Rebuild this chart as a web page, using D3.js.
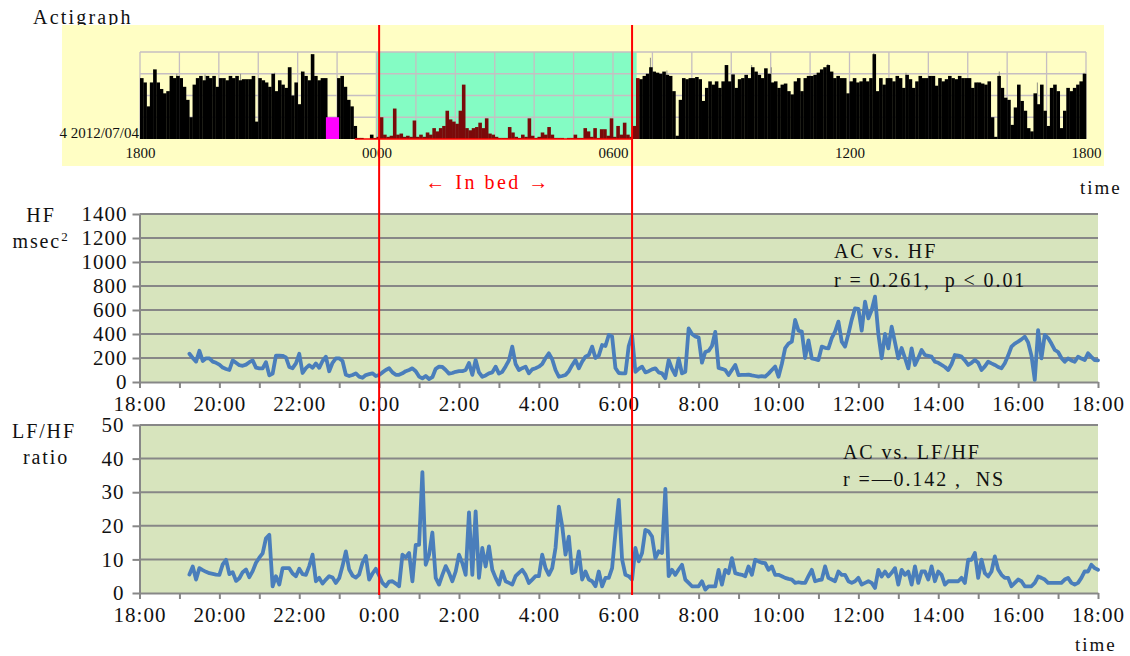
<!DOCTYPE html>
<html>
<head>
<meta charset="utf-8">
<script src="https://cdn.jsdelivr.net/npm/d3@7"></script>
<style>
  body { margin: 0; background: #fff; }
  text { font-family: "Liberation Serif", "Times New Roman", serif; fill: #111; }
</style>
</head>
<body>
<div id="chart"></div>
<script>
// actigraph counts (0-4 scale), 5-min bins from 2012/07/04 18:00, one row per hour
const actigraph = [
  2.8, 2.6, 1.5, 2.6, 3.2, 2.6, 2.3, 2.1, 2.2, 2.9, 2.8, 2.9,
  2.8, 2.4, 1.8, 1.0, 2.5, 2.8, 2.9, 2.7, 2.9, 2.8, 2.9, 2.4,
  2.8, 2.8, 2.7, 2.9, 2.8, 2.9, 2.7, 2.75, 2.75, 2.75, 2.9, 0.8,
  2.8, 2.7, 2.6, 2.4, 3.0, 2.2, 2.7, 2.5, 2.35, 3.3, 2.0, 2.6,
  1.6, 3.1, 2.9, 2.7, 3.9, 2.9, 2.7, 2.8, 2.8, 0, 0, 0,
  2.8, 2.9, 2.4, 1.8, 1.5, 0.6, 0.05, 0.05, 0, 0, 0.2, 0.05,
  0.1, 1.0, 0.2, 0.1, 0.15, 1.4, 0.2, 0.25, 0.1, 0.15, 0.1, 0.85,
  0.1, 0.2, 0.1, 0.3, 0.2, 0.5, 0.35, 0.5, 0.6, 1.3, 0.9, 0.8,
  0.7, 1.3, 2.5, 0.5, 0.4, 0.5, 0.55, 0.75, 0.5, 0.95, 0.25, 0.2,
  0.1, 0.05, 0.05, 0.05, 0.55, 0.3, 0.1, 0.05, 0.2, 0.1, 0.95, 0.15,
  0.05, 0.1, 0.3, 0.2, 0.55, 0.2, 0.05, 0.05, 0.05, 0, 0.05, 0.05,
  0.2, 0.05, 0.05, 0.5, 0.35, 0.1, 0.5, 0.05, 0.45, 0.45, 0.15, 0.95,
  0.1, 0.6, 0.2, 0.75, 0.2, 0.1, 0.6, 2.8, 2.75, 2.9, 3.0, 3.3,
  3.1, 3.05, 3.0, 3.1, 2.95, 2.9, 2.2, 0.15, 1.8, 2.8, 2.75, 2.8,
  2.8, 2.85, 2.75, 1.75, 2.35, 2.65, 2.5, 2.65, 2.35, 2.65, 3.4, 2.65,
  2.97, 2.35, 2.75, 2.8, 2.95, 2.8, 3.3, 3.1, 2.95, 2.8, 3.25, 3.0,
  2.6, 2.65, 2.35, 2.5, 2.55, 2.2, 2.05, 2.65, 2.8, 2.2, 2.8, 2.9,
  2.9, 2.95, 3.05, 3.2, 3.3, 3.4, 3.1, 2.8, 2.9, 2.8, 2.8, 2.1,
  2.65, 2.8, 2.6, 2.65, 2.8, 2.65, 2.8, 3.9, 2.2, 2.8, 2.5, 2.8,
  2.8, 2.65, 2.9, 2.8, 2.35, 2.95, 2.75, 2.35, 2.65, 2.9, 2.8, 2.8,
  2.9, 2.9, 2.45, 2.8, 2.65, 2.75, 2.9, 2.8, 2.75, 2.9, 2.8, 2.8,
  2.8, 2.35, 2.6, 2.6, 2.55, 2.5, 2.65, 1.0, 0.1, 2.9, 2.35, 1.9,
  1.8, 0.65, 1.45, 2.5, 1.75, 1.3, 0.5, 0.35, 2.1, 1.6, 2.5, 1.3,
  0.6, 2.35, 2.5, 2.2, 0.5, 1.3, 2.35, 2.2, 2.35, 2.5, 2.65, 3.0
];
// short single-minute spikes that stand above the 5-min bars
const spikeTimes = ["18:21", "18:56", "19:39", "20:33", "21:25", "21:50", "22:06", "22:21",
  "6:57", "7:22", "9:31", "10:01", "11:27", "12:37", "13:26", "15:48", "16:46", "17:57"];
const spikeValues = [3.2, 3.0, 2.97, 3.0, 3.05, 3.3, 3.1, 3.9,
  3.74, 3.15, 3.4, 3.3, 3.45, 3.95, 3.05, 3.1, 2.6, 3.05];
const offWrist = ["22:43", "23:03"];
const offWristLevel = 1;
const sleepWindow = ["23:59", "6:36"];
const zeroStretch = ["23:27", "6:28"];
const inBed = ["0:00", "6:20"];
const actTicks = [0, 6, 12, 18, 24];

// HRV series, 5-min samples from 19:15 to 18:00
const seriesStart = "19:15";
const hf = [
  235, 200, 170, 260, 175, 197, 197, 170, 160,
  145, 120, 108, 100, 180, 160, 140, 135, 145, 165, 180, 120,
  114, 114, 165, 55, 70, 220, 220, 218, 205, 125, 115, 155,
  235, 75, 115, 140, 118, 155, 118, 175, 210, 90, 160, 197,
  197, 175, 60, 50, 58, 72, 45, 35, 58, 65, 72, 50,
  58, 80, 100, 114, 80, 60, 60, 72, 90, 100, 114, 90,
  45, 30, 50, 25, 40, 110, 128, 125, 100, 70, 75, 85,
  90, 90, 100, 158, 60, 183, 80, 44, 55, 72, 80, 128,
  70, 85, 130, 180, 295, 150, 100, 115, 128, 72, 105, 115,
  128, 150, 200, 239, 190, 100, 44, 50, 58, 90, 140, 183,
  114, 170, 211, 225, 295, 200, 220, 308, 300, 392, 380, 117,
  75, 72, 72, 300, 390, 84, 110, 128, 80, 90, 105, 114,
  80, 72, 31, 183, 110, 58, 194, 72, 86, 447, 400, 380,
  370, 161, 250, 260, 300, 417, 117, 110, 100, 58, 100, 142,
  58, 60, 60, 62, 55, 50, 44, 48, 44, 70, 100, 128,
  44, 150, 283, 320, 336, 517, 428, 420, 200, 347, 197, 190,
  183, 295, 285, 280, 366, 420, 503, 336, 295, 400, 520, 614,
  610, 428, 669, 530, 600, 711, 400, 197, 400, 280, 461, 330,
  197, 283, 200, 114, 280, 142, 200, 267, 225, 218, 211, 169,
  160, 142, 125, 100, 150, 225, 220, 211, 180, 142, 160, 183,
  160, 100, 130, 169, 155, 142, 125, 114, 156, 220, 295, 320,
  336, 355, 378, 330, 220, 17, 433, 197, 392, 366, 320, 267,
  250, 200, 169, 197, 180, 169, 211, 195, 183, 239, 210, 183,
  180
];
const lfhf = [
  5.5, 7.9, 4.0, 7.4, 6.8, 6.3, 5.9, 5.7, 5.5,
  5.4, 8.5, 9.9, 5.6, 6.2, 3.6, 4.4, 6.2, 7.0, 4.7, 6.5, 9.0,
  10.5, 11.8, 16.3, 17.3, 2.0, 5.0, 2.5, 7.4, 7.4, 7.4, 5.8, 5.0,
  7.2, 5.6, 5.4, 8.0, 11.4, 3.5, 4.5, 2.8, 4.0, 5.0, 4.6, 3.0,
  4.4, 8.0, 12.4, 7.0, 5.2, 4.6, 5.5, 9.0, 11.0, 4.0, 5.8, 7.2,
  5.2, 3.0, 2.0, 3.4, 3.5, 2.8, 2.0, 11.4, 10.6, 11.9, 3.5, 14.3,
  14.3, 36, 8.4, 11.4, 18, 4.5, 2.5, 5.4, 8.0, 6.0, 3.5, 6.4,
  11.4, 8.9, 5.4, 24, 5.4, 24.3, 4.5, 13.4, 7.9, 13.9, 6.9, 4.5,
  2.5, 6.4, 3.5, 3.0, 2.5, 5.0, 6.0, 6.9, 5.4, 3.0, 4.0, 5.0,
  5.0, 11.4, 7.4, 5.4, 7.4, 13.4, 25.7, 20, 11.4, 16.8, 5.9, 6.4,
  12.4, 4.0, 6.4, 4.0, 3.5, 2.0, 6.4, 2.0, 4.5, 4.5, 7.4, 17.8,
  27.7, 10, 5.4, 5.0, 4.0, 13.4, 9.4, 11.9, 18.8, 18.3, 16.8, 10.4,
  12.4, 11.9, 31, 5.0, 6.9, 5.4, 7.0, 8.4, 4.0, 3.0, 2.0, 2.0,
  2.0, 3.5, 1.0, 2.0, 2.0, 2.0, 6.9, 2.5, 6.9, 5.9, 10.4, 5.9,
  5.6, 5.4, 5.0, 7.9, 5.4, 9.9, 9.4, 9.0, 8.9, 6.9, 7.9, 5.4,
  5.4, 5.0, 4.5, 4.2, 4.0, 3.0, 3.2, 3.0, 3.0, 5.0, 6.9, 3.5,
  3.8, 4.0, 7.9, 4.5, 4.0, 3.5, 6.4, 5.4, 5.4, 3.5, 3.0, 3.5,
  4.5, 2.5, 3.0, 3.5, 3.0, 1.5, 6.9, 4.9, 6.4, 4.9, 6.0, 7.4,
  2.5, 6.9, 5.4, 6.4, 2.5, 7.9, 3.0, 6.4, 6.4, 4.0, 7.9, 3.5,
  6.4, 5.4, 2.5, 3.5, 3.5, 3.5, 3.5, 4.5, 3.0, 9.9, 9.9, 11.9,
  4.5, 9.9, 5.9, 4.9, 6.4, 10.9, 7.0, 5.4, 4.5, 4.5, 2.0, 3.0,
  4.0, 3.5, 2.0, 2.0, 2.0, 3.0, 4.9, 4.5, 4.0, 3.0, 3.0, 3.0,
  3.0, 3.0, 4.0, 4.5, 3.0, 2.5, 3.0, 4.5, 6.4, 6.4, 8.4, 7.4,
  6.9
];
const hfTicks = [0, 200, 400, 600, 800, 1000, 1200, 1400];
const lfhfTicks = [0, 10, 20, 30, 40, 50];

const W = 1130, H = 656;
const base = new Date(2012, 6, 4, 18, 0);
const end = new Date(2012, 6, 5, 18, 0);
const clock = s => {
  const [h, m] = s.split(":").map(Number);
  let min = h * 60 + m - 18 * 60;
  if (min < 0) min += 1440;
  return d3.timeMinute.offset(base, min);
};

const svg = d3.select("#chart").append("svg")
  .attr("width", W).attr("height", H)
  .style("display", "block");

const grey = "#878787";
const red = "#ff0000";

// ---------- actigraph panel ----------
const xAct = d3.scaleTime().domain([base, end]).range([140, 1086]);
const yAct = d3.scaleLinear().domain([0, 4]).range([139, 52]);

svg.append("text").attr("x", 33).attr("y", 24)
  .style("font-size", "20px").style("letter-spacing", "2.2px")
  .text("Actigraph");

svg.append("rect").attr("x", 62).attr("y", 25).attr("width", 1042).attr("height", 141)
  .attr("fill", "#fffec4");

svg.append("rect")
  .attr("x", xAct(clock(sleepWindow[0]))).attr("y", yAct(4))
  .attr("width", xAct(clock(sleepWindow[1])) - xAct(clock(sleepWindow[0])))
  .attr("height", yAct(0) - yAct(4))
  .attr("fill", "#84fcc4");

const actGrid = svg.append("g").attr("stroke", "#c6bec2").attr("stroke-width", 1.3);
actGrid.selectAll("line.v").data(xAct.ticks(d3.timeHour.every(1))).enter()
  .append("line").attr("class", "v")
  .attr("x1", d => xAct(d)).attr("x2", d => xAct(d))
  .attr("y1", yAct(4)).attr("y2", yAct(0));
actGrid.selectAll("line.h").data([1, 2, 3, 4]).enter()
  .append("line").attr("class", "h")
  .attr("x1", 140).attr("x2", 1086)
  .attr("y1", d => yAct(d)).attr("y2", d => yAct(d));

const sleepFrom = clock(sleepWindow[0]), sleepTo = clock(sleepWindow[1]);
const bars = actigraph.map((v, i) => ({
  t0: d3.timeMinute.offset(base, i * 5),
  t1: d3.timeMinute.offset(base, (i + 1) * 5),
  v
}));

svg.append("g").attr("stroke", "#9c9c8c").attr("stroke-width", 1.1)
  .selectAll("line").data(spikeTimes.map((s, i) => ({ t: clock(s), v: spikeValues[i] }))).enter()
  .append("line")
  .attr("x1", d => xAct(d.t)).attr("x2", d => xAct(d.t))
  .attr("y1", yAct(0)).attr("y2", d => yAct(d.v));

svg.append("g").selectAll("rect").data(bars).enter()
  .append("rect")
  .attr("x", d => xAct(d.t0))
  .attr("width", d => xAct(d.t1) - xAct(d.t0) + 0.3)
  .attr("y", d => yAct(d.v))
  .attr("height", d => yAct(0) - yAct(d.v))
  .attr("fill", d => (d.t0 >= sleepFrom && d.t0 < sleepTo) ? "#7a0a0a" : "#000");

svg.append("rect")
  .attr("x", xAct(clock(offWrist[0]))).attr("y", yAct(offWristLevel))
  .attr("width", xAct(clock(offWrist[1])) - xAct(clock(offWrist[0])))
  .attr("height", yAct(0) - yAct(offWristLevel))
  .attr("fill", "#ff00ff");

svg.append("line")
  .attr("x1", xAct(clock(zeroStretch[0]))).attr("x2", xAct(clock(zeroStretch[1])))
  .attr("y1", yAct(0)).attr("y2", yAct(0))
  .attr("stroke", red).attr("stroke-width", 1.6);

const actAxis = svg.append("g").attr("transform", `translate(0,${yAct(0)})`)
  .call(d3.axisBottom(xAct)
    .tickValues(actTicks.map(h => d3.timeHour.offset(base, h)))
    .tickFormat(d3.timeFormat("%H%M"))
    .tickSize(0).tickPadding(8));
actAxis.select(".domain").remove();
actAxis.selectAll("text").style("font-size", "15px")
  .style("font-family", "'Liberation Serif', serif").attr("fill", "#111");

svg.append("text").attr("x", 139).attr("y", 138).attr("text-anchor", "end")
  .style("font-size", "15px").text("4 2012/07/04");

svg.append("text").attr("x", 488).attr("y", 189).attr("text-anchor", "middle")
  .attr("fill", red).style("fill", red)
  .style("font-size", "20px").style("letter-spacing", "2.5px")
  .text("← In bed →");

svg.append("text").attr("x", 1080).attr("y", 194)
  .style("font-size", "19px").style("letter-spacing", "2px").text("time");

// ---------- HRV panels ----------
const xLine = d3.scaleTime().domain([base, end]).range([139.5, 1098]);
const t0Series = clock(seriesStart);
const toPoints = arr => arr.map((v, i) => ({ t: d3.timeMinute.offset(t0Series, i * 5), v }));

function panel(y, ticks, values, labelPad, xPad) {
  const [top, bottom] = y.range().slice().reverse();
  const g = svg.append("g");
  g.append("rect").attr("x", 139.5).attr("y", top)
    .attr("width", 1098 - 139.5).attr("height", bottom - top)
    .attr("fill", "#d7e4bd");
  g.append("g").selectAll("line").data(ticks.slice(1)).enter()
    .append("line")
    .attr("x1", 139.5).attr("x2", 1098)
    .attr("y1", d => y(d)).attr("y2", d => y(d))
    .attr("stroke", grey).attr("stroke-width", 2);

  const ya = g.append("g").attr("transform", "translate(139.5,0)")
    .call(d3.axisLeft(y).tickValues(ticks).tickFormat(d3.format("d"))
      .tickSize(7).tickSizeOuter(0).tickPadding(labelPad));
  const xa = g.append("g").attr("transform", `translate(0,${bottom})`)
    .call(d3.axisBottom(xLine)
      .ticks(d3.timeHour.every(1))
      .tickFormat(d => d.getHours() % 2 === 0 ? d3.timeFormat("%-H:%M")(d) : "")
      .tickSize(6).tickSizeOuter(0).tickPadding(xPad));
  [ya, xa].forEach(a => {
    a.select(".domain").attr("stroke", grey).attr("stroke-width", 2);
    a.selectAll(".tick line").attr("stroke", grey).attr("stroke-width", 2);
    a.selectAll("text").style("font-size", "21px").style("letter-spacing", "1px")
      .style("font-family", "'Liberation Serif', serif").attr("fill", "#111");
  });

  g.append("path").datum(toPoints(values))
    .attr("fill", "none").attr("stroke", "#4a7ebb").attr("stroke-width", 3.8)
    .attr("stroke-linejoin", "round").attr("stroke-linecap", "round")
    .attr("d", d3.line().x(d => xLine(d.t)).y(d => y(d.v)));
}

const yHF = d3.scaleLinear().domain([0, 1400]).range([382, 214]);
const yLF = d3.scaleLinear().domain([0, 50]).range([593, 425]);
panel(yHF, hfTicks, hf, 5, 8);
panel(yLF, lfhfTicks, lfhf, 8, 8);

const lab = (x, y, s, anchor = "middle") => svg.append("text")
  .attr("x", x).attr("y", y).attr("text-anchor", anchor)
  .attr("xml:space", "preserve").style("white-space", "pre")
  .style("font-size", "20px").style("letter-spacing", "1.9px").text(s);

lab(41, 222, "HF");
const ms = lab(41, 248, "msec");
ms.append("tspan").attr("dy", -7).style("font-size", "13px").text("2");
lab(44, 438, "LF/HF");
lab(46, 464, "ratio");

lab(834, 258, "AC vs. HF", "start");
lab(834, 287, "r = 0.261,  p < 0.01", "start");
lab(843, 459, "AC vs. LF/HF", "start");
lab(843, 486, "r =\u20140.142 ,  NS", "start");

svg.append("text").attr("x", 1075).attr("y", 651)
  .style("font-size", "19px").style("letter-spacing", "2px").text("time");

// in-bed markers across all panels
svg.append("g").selectAll("line").data(inBed.map(clock)).enter()
  .append("line")
  .attr("x1", d => xLine(d)).attr("x2", d => xLine(d))
  .attr("y1", 25).attr("y2", 595)
  .attr("stroke", red).attr("stroke-width", 2);
</script>
</body>
</html>
